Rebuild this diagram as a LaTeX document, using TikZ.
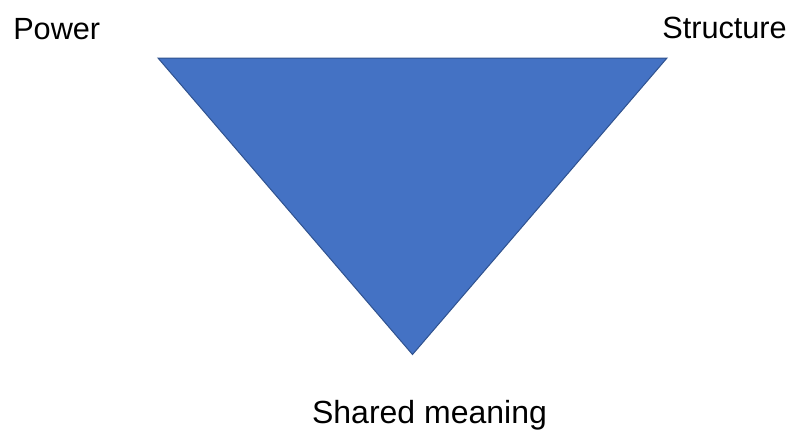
\documentclass[tikz,border=0pt]{standalone}
\usepackage{fontspec}
\setmainfont{Liberation Sans}
\definecolor{triFill}{HTML}{4472C4}
\definecolor{triLine}{HTML}{2F528F}
\begin{document}
\begin{tikzpicture}[x=0.75pt,y=-0.75pt,
  lbl/.style={inner sep=0pt,font=\fontsize{23}{27}\selectfont}]
\useasboundingbox (0,0) rectangle (792,430);
\coordinate (tl) at (158,58);
\coordinate (tr) at (667,58);
\coordinate (bt) at (412.5,354.5);
\draw[fill=triFill,draw=triLine,line width=0.75pt,line join=miter] (tl) -- (tr) -- (bt) -- cycle;
\node[lbl,anchor=base west] (power) at (13,39) {Power};
\node[lbl,anchor=base east] (structure) at (787,38) {Structure};
\node[lbl,anchor=base,font=\fontsize{24}{28}\selectfont] (shared) at (429.5,423) {Shared meaning};
\end{tikzpicture}
\end{document}
